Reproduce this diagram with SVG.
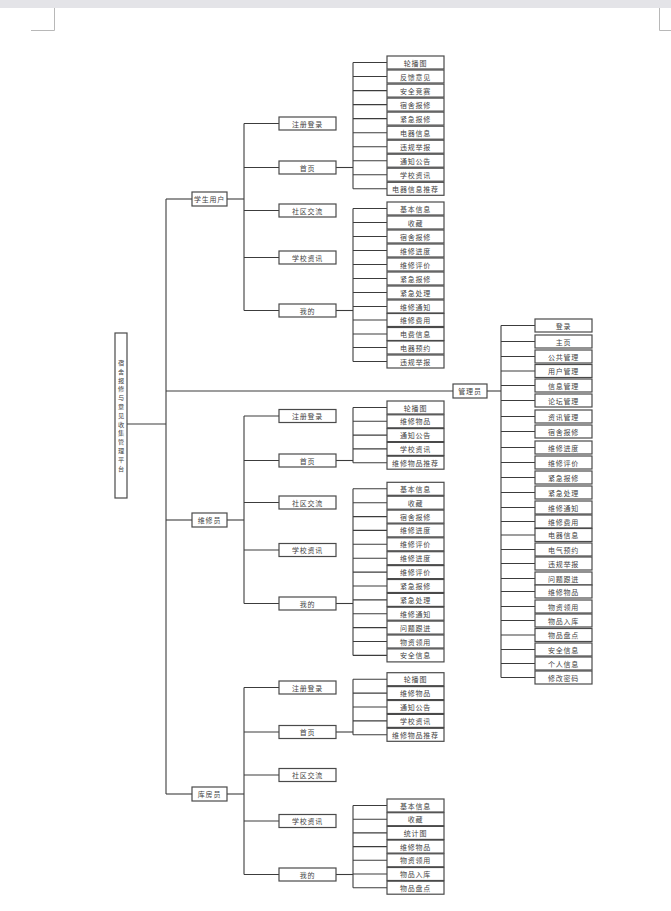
<svg xmlns="http://www.w3.org/2000/svg" width="671" height="911" viewBox="0 0 671 911">
<style>
  .page { fill: #ffffff; }
  .bar { fill: #e4e4e8; }
  .mark { stroke: #b8b8b8; stroke-width: 1; fill: none; }
  .box { fill: #ffffff; stroke: #4a4a4a; stroke-width: 1.2; }
  .lbl { font-family: "Noto Sans CJK SC", "Noto Sans CJK TC", sans-serif; font-size: 7px; fill: #444; text-anchor: middle; dominant-baseline: central; letter-spacing: 0.8px; }
  .vlbl { font-size: 6.2px; letter-spacing: 0; }
  .conn line { stroke: #3c3c3c; stroke-width: 1.1; }
</style>

<!-- page background and corner marks -->
<rect class="page" x="0" y="0" width="671" height="911"/>
<rect class="bar" x="0" y="0" width="671" height="8"/>
<path class="mark" d="M54.5 8 V30.5 H31"/>
<path class="mark" d="M659.5 8 V30.5 H671"/>

<!-- connectors -->
<g id="connectors" class="conn">
  <!-- root trunk -->
  <line x1="127" y1="424" x2="166" y2="424"/>
  <line x1="166" y1="199" x2="166" y2="794"/>
  <line x1="166" y1="199" x2="192" y2="199"/>
  <line x1="166" y1="391" x2="453" y2="391"/>
  <line x1="166" y1="520" x2="192" y2="520"/>
  <line x1="166" y1="794" x2="192" y2="794"/>

  <!-- student branch -->
  <line x1="227" y1="199" x2="244" y2="199"/>
  <line x1="244" y1="123.5" x2="244" y2="310.5"/>
  <line x1="244" y1="123.5" x2="279" y2="123.5"/>
  <line x1="244" y1="167.5" x2="279" y2="167.5"/>
  <line x1="244" y1="210.5" x2="279" y2="210.5"/>
  <line x1="244" y1="257.5" x2="279" y2="257.5"/>
  <line x1="244" y1="310.5" x2="279" y2="310.5"/>
  <line x1="336" y1="167.5" x2="353" y2="167.5"/>
  <line x1="353" y1="62.5" x2="353" y2="188.8"/>
  <line x1="353" y1="62.5" x2="387" y2="62.5"/>
  <line x1="353" y1="76.5" x2="387" y2="76.5"/>
  <line x1="353" y1="90.6" x2="387" y2="90.6"/>
  <line x1="353" y1="104.6" x2="387" y2="104.6"/>
  <line x1="353" y1="118.6" x2="387" y2="118.6"/>
  <line x1="353" y1="132.7" x2="387" y2="132.7"/>
  <line x1="353" y1="146.7" x2="387" y2="146.7"/>
  <line x1="353" y1="160.7" x2="387" y2="160.7"/>
  <line x1="353" y1="174.7" x2="387" y2="174.7"/>
  <line x1="353" y1="188.8" x2="387" y2="188.8"/>
  <line x1="336" y1="310.5" x2="353" y2="310.5"/>
  <line x1="353" y1="208.5" x2="353" y2="361.5"/>
  <line x1="353" y1="208.5" x2="387" y2="208.5"/>
  <line x1="353" y1="222.5" x2="387" y2="222.5"/>
  <line x1="353" y1="236.5" x2="387" y2="236.5"/>
  <line x1="353" y1="250.5" x2="387" y2="250.5"/>
  <line x1="353" y1="264.5" x2="387" y2="264.5"/>
  <line x1="353" y1="278.5" x2="387" y2="278.5"/>
  <line x1="353" y1="292.5" x2="387" y2="292.5"/>
  <line x1="353" y1="306.5" x2="387" y2="306.5"/>
  <line x1="353" y1="320" x2="387" y2="320"/>
  <line x1="353" y1="334" x2="387" y2="334"/>
  <line x1="353" y1="347.5" x2="387" y2="347.5"/>
  <line x1="353" y1="361.5" x2="387" y2="361.5"/>

  <!-- admin branch -->
  <line x1="487" y1="391" x2="501" y2="391"/>
  <line x1="501" y1="325.5" x2="501" y2="677.5"/>
  <line x1="501" y1="325.5" x2="535" y2="325.5"/>
  <line x1="501" y1="341.5" x2="535" y2="341.5"/>
  <line x1="501" y1="356.5" x2="535" y2="356.5"/>
  <line x1="501" y1="371" x2="535" y2="371"/>
  <line x1="501" y1="385.5" x2="535" y2="385.5"/>
  <line x1="501" y1="400.5" x2="535" y2="400.5"/>
  <line x1="501" y1="416.5" x2="535" y2="416.5"/>
  <line x1="501" y1="431.5" x2="535" y2="431.5"/>
  <line x1="501" y1="447.5" x2="535" y2="447.5"/>
  <line x1="501" y1="462.5" x2="535" y2="462.5"/>
  <line x1="501" y1="477.5" x2="535" y2="477.5"/>
  <line x1="501" y1="492.5" x2="535" y2="492.5"/>
  <line x1="501" y1="507.5" x2="535" y2="507.5"/>
  <line x1="501" y1="521.5" x2="535" y2="521.5"/>
  <line x1="501" y1="535" x2="535" y2="535"/>
  <line x1="501" y1="549.5" x2="535" y2="549.5"/>
  <line x1="501" y1="563.5" x2="535" y2="563.5"/>
  <line x1="501" y1="578.5" x2="535" y2="578.5"/>
  <line x1="501" y1="591.5" x2="535" y2="591.5"/>
  <line x1="501" y1="606.5" x2="535" y2="606.5"/>
  <line x1="501" y1="620.5" x2="535" y2="620.5"/>
  <line x1="501" y1="635" x2="535" y2="635"/>
  <line x1="501" y1="649.5" x2="535" y2="649.5"/>
  <line x1="501" y1="663.5" x2="535" y2="663.5"/>
  <line x1="501" y1="677.5" x2="535" y2="677.5"/>

  <!-- repairman branch -->
  <line x1="227" y1="520" x2="244" y2="520"/>
  <line x1="244" y1="416" x2="244" y2="603.5"/>
  <line x1="244" y1="416" x2="279" y2="416"/>
  <line x1="244" y1="460.5" x2="279" y2="460.5"/>
  <line x1="244" y1="502.5" x2="279" y2="502.5"/>
  <line x1="244" y1="550" x2="279" y2="550"/>
  <line x1="244" y1="603.5" x2="279" y2="603.5"/>
  <line x1="336" y1="460.5" x2="353" y2="460.5"/>
  <line x1="353" y1="407.5" x2="353" y2="462.7"/>
  <line x1="353" y1="407.5" x2="387" y2="407.5"/>
  <line x1="353" y1="421.3" x2="387" y2="421.3"/>
  <line x1="353" y1="435.1" x2="387" y2="435.1"/>
  <line x1="353" y1="448.9" x2="387" y2="448.9"/>
  <line x1="353" y1="462.7" x2="387" y2="462.7"/>
  <line x1="336" y1="603.5" x2="353" y2="603.5"/>
  <line x1="353" y1="488.8" x2="353" y2="655.4"/>
  <line x1="353" y1="488.8" x2="387" y2="488.8"/>
  <line x1="353" y1="502.7" x2="387" y2="502.7"/>
  <line x1="353" y1="516.6" x2="387" y2="516.6"/>
  <line x1="353" y1="530.4" x2="387" y2="530.4"/>
  <line x1="353" y1="544.3" x2="387" y2="544.3"/>
  <line x1="353" y1="558.2" x2="387" y2="558.2"/>
  <line x1="353" y1="572.1" x2="387" y2="572.1"/>
  <line x1="353" y1="586" x2="387" y2="586"/>
  <line x1="353" y1="599.9" x2="387" y2="599.9"/>
  <line x1="353" y1="613.7" x2="387" y2="613.7"/>
  <line x1="353" y1="627.6" x2="387" y2="627.6"/>
  <line x1="353" y1="641.5" x2="387" y2="641.5"/>
  <line x1="353" y1="655.4" x2="387" y2="655.4"/>

  <!-- storekeeper branch -->
  <line x1="227" y1="794" x2="244" y2="794"/>
  <line x1="244" y1="687.5" x2="244" y2="874.5"/>
  <line x1="244" y1="687.5" x2="279" y2="687.5"/>
  <line x1="244" y1="732" x2="279" y2="732"/>
  <line x1="244" y1="775" x2="279" y2="775"/>
  <line x1="244" y1="821" x2="279" y2="821"/>
  <line x1="244" y1="874.5" x2="279" y2="874.5"/>
  <line x1="336" y1="732" x2="353" y2="732"/>
  <line x1="353" y1="679.2" x2="353" y2="734.8"/>
  <line x1="353" y1="679.2" x2="387" y2="679.2"/>
  <line x1="353" y1="693.1" x2="387" y2="693.1"/>
  <line x1="353" y1="707" x2="387" y2="707"/>
  <line x1="353" y1="720.9" x2="387" y2="720.9"/>
  <line x1="353" y1="734.8" x2="387" y2="734.8"/>
  <line x1="336" y1="874.5" x2="353" y2="874.5"/>
  <line x1="353" y1="805.5" x2="353" y2="887.7"/>
  <line x1="353" y1="805.5" x2="387" y2="805.5"/>
  <line x1="353" y1="819.2" x2="387" y2="819.2"/>
  <line x1="353" y1="832.9" x2="387" y2="832.9"/>
  <line x1="353" y1="846.6" x2="387" y2="846.6"/>
  <line x1="353" y1="860.3" x2="387" y2="860.3"/>
  <line x1="353" y1="874" x2="387" y2="874"/>
  <line x1="353" y1="887.7" x2="387" y2="887.7"/>
</g>

<!-- root: platform title, one character per line -->
<g id="root">
  <rect class="box" x="115" y="333" width="12" height="165"/>
  <text class="lbl vlbl" x="121" y="362">
    <tspan x="121" dy="0">宿</tspan><tspan x="121" dy="8.8">舍</tspan><tspan x="121" dy="8.8">报</tspan><tspan x="121" dy="8.8">修</tspan><tspan x="121" dy="8.8">与</tspan><tspan x="121" dy="8.8">意</tspan><tspan x="121" dy="8.8">见</tspan><tspan x="121" dy="8.8">收</tspan><tspan x="121" dy="8.8">集</tspan><tspan x="121" dy="8.8">管</tspan><tspan x="121" dy="8.8">理</tspan><tspan x="121" dy="8.8">平</tspan><tspan x="121" dy="8.8">台</tspan>
  </text>
</g>

<!-- student user -->
<g id="student"><rect class="box" x="192" y="192" width="35" height="14"/><text class="lbl" x="209.5" y="199">学生用户</text></g>
<g id="s-login"><rect class="box" x="279" y="117" width="57" height="13"/><text class="lbl" x="307.5" y="123.5">注册登录</text></g>
<g id="s-home"><rect class="box" x="279" y="161" width="57" height="13"/><text class="lbl" x="307.5" y="167.5">首页</text></g>
<g id="s-forum"><rect class="box" x="279" y="204" width="57" height="13"/><text class="lbl" x="307.5" y="210.5">社区交流</text></g>
<g id="s-news"><rect class="box" x="279" y="251" width="57" height="13"/><text class="lbl" x="307.5" y="257.5">学校资讯</text></g>
<g id="s-mine"><rect class="box" x="279" y="304" width="57" height="13"/><text class="lbl" x="307.5" y="310.5">我的</text></g>

<g id="s-home-1"><rect class="box" x="387" y="56" width="57" height="13"/><text class="lbl" x="415.5" y="62.5">轮播图</text></g>
<g id="s-home-2"><rect class="box" x="387" y="70" width="57" height="13"/><text class="lbl" x="415.5" y="76.5">反馈意见</text></g>
<g id="s-home-3"><rect class="box" x="387" y="84.1" width="57" height="13"/><text class="lbl" x="415.5" y="90.6">安全竞赛</text></g>
<g id="s-home-4"><rect class="box" x="387" y="98.1" width="57" height="13"/><text class="lbl" x="415.5" y="104.6">宿舍报修</text></g>
<g id="s-home-5"><rect class="box" x="387" y="112.1" width="57" height="13"/><text class="lbl" x="415.5" y="118.6">紧急报修</text></g>
<g id="s-home-6"><rect class="box" x="387" y="126.2" width="57" height="13"/><text class="lbl" x="415.5" y="132.7">电器信息</text></g>
<g id="s-home-7"><rect class="box" x="387" y="140.2" width="57" height="13"/><text class="lbl" x="415.5" y="146.7">违规举报</text></g>
<g id="s-home-8"><rect class="box" x="387" y="154.2" width="57" height="13"/><text class="lbl" x="415.5" y="160.7">通知公告</text></g>
<g id="s-home-9"><rect class="box" x="387" y="168.2" width="57" height="13"/><text class="lbl" x="415.5" y="174.7">学校资讯</text></g>
<g id="s-home-10"><rect class="box" x="387" y="182.3" width="57" height="13"/><text class="lbl" x="415.5" y="188.8">电器信息推荐</text></g>

<g id="s-mine-1"><rect class="box" x="387" y="202" width="57" height="13"/><text class="lbl" x="415.5" y="208.5">基本信息</text></g>
<g id="s-mine-2"><rect class="box" x="387" y="216" width="57" height="13"/><text class="lbl" x="415.5" y="222.5">收藏</text></g>
<g id="s-mine-3"><rect class="box" x="387" y="230" width="57" height="13"/><text class="lbl" x="415.5" y="236.5">宿舍报修</text></g>
<g id="s-mine-4"><rect class="box" x="387" y="244" width="57" height="13"/><text class="lbl" x="415.5" y="250.5">维修进度</text></g>
<g id="s-mine-5"><rect class="box" x="387" y="258" width="57" height="13"/><text class="lbl" x="415.5" y="264.5">维修评价</text></g>
<g id="s-mine-6"><rect class="box" x="387" y="272" width="57" height="13"/><text class="lbl" x="415.5" y="278.5">紧急报修</text></g>
<g id="s-mine-7"><rect class="box" x="387" y="286" width="57" height="13"/><text class="lbl" x="415.5" y="292.5">紧急处理</text></g>
<g id="s-mine-8"><rect class="box" x="387" y="300" width="57" height="13"/><text class="lbl" x="415.5" y="306.5">维修通知</text></g>
<g id="s-mine-9"><rect class="box" x="387" y="313.5" width="57" height="13"/><text class="lbl" x="415.5" y="320">维修费用</text></g>
<g id="s-mine-10"><rect class="box" x="387" y="327.5" width="57" height="13"/><text class="lbl" x="415.5" y="334">电费信息</text></g>
<g id="s-mine-11"><rect class="box" x="387" y="341" width="57" height="13"/><text class="lbl" x="415.5" y="347.5">电器预约</text></g>
<g id="s-mine-12"><rect class="box" x="387" y="355" width="57" height="13"/><text class="lbl" x="415.5" y="361.5">违规举报</text></g>

<!-- administrator -->
<g id="admin"><rect class="box" x="453" y="384" width="34" height="14"/><text class="lbl" x="470" y="391">管理员</text></g>
<g id="a-1"><rect class="box" x="535" y="319" width="57" height="13"/><text class="lbl" x="563.5" y="325.5">登录</text></g>
<g id="a-2"><rect class="box" x="535" y="335" width="57" height="13"/><text class="lbl" x="563.5" y="341.5">主页</text></g>
<g id="a-3"><rect class="box" x="535" y="350" width="57" height="13"/><text class="lbl" x="563.5" y="356.5">公共管理</text></g>
<g id="a-4"><rect class="box" x="535" y="364.5" width="57" height="13"/><text class="lbl" x="563.5" y="371">用户管理</text></g>
<g id="a-5"><rect class="box" x="535" y="379" width="57" height="13"/><text class="lbl" x="563.5" y="385.5">信息管理</text></g>
<g id="a-6"><rect class="box" x="535" y="394" width="57" height="13"/><text class="lbl" x="563.5" y="400.5">论坛管理</text></g>
<g id="a-7"><rect class="box" x="535" y="410" width="57" height="13"/><text class="lbl" x="563.5" y="416.5">资讯管理</text></g>
<g id="a-8"><rect class="box" x="535" y="425" width="57" height="13"/><text class="lbl" x="563.5" y="431.5">宿舍报修</text></g>
<g id="a-9"><rect class="box" x="535" y="441" width="57" height="13"/><text class="lbl" x="563.5" y="447.5">维修进度</text></g>
<g id="a-10"><rect class="box" x="535" y="456" width="57" height="13"/><text class="lbl" x="563.5" y="462.5">维修评价</text></g>
<g id="a-11"><rect class="box" x="535" y="471" width="57" height="13"/><text class="lbl" x="563.5" y="477.5">紧急报修</text></g>
<g id="a-12"><rect class="box" x="535" y="486" width="57" height="13"/><text class="lbl" x="563.5" y="492.5">紧急处理</text></g>
<g id="a-13"><rect class="box" x="535" y="501" width="57" height="13"/><text class="lbl" x="563.5" y="507.5">维修通知</text></g>
<g id="a-14"><rect class="box" x="535" y="515" width="57" height="13"/><text class="lbl" x="563.5" y="521.5">维修费用</text></g>
<g id="a-15"><rect class="box" x="535" y="528.5" width="57" height="13"/><text class="lbl" x="563.5" y="535">电器信息</text></g>
<g id="a-16"><rect class="box" x="535" y="543" width="57" height="13"/><text class="lbl" x="563.5" y="549.5">电气预约</text></g>
<g id="a-17"><rect class="box" x="535" y="557" width="57" height="13"/><text class="lbl" x="563.5" y="563.5">违规举报</text></g>
<g id="a-18"><rect class="box" x="535" y="572" width="57" height="13"/><text class="lbl" x="563.5" y="578.5">问题跟进</text></g>
<g id="a-19"><rect class="box" x="535" y="585" width="57" height="13"/><text class="lbl" x="563.5" y="591.5">维修物品</text></g>
<g id="a-20"><rect class="box" x="535" y="600" width="57" height="13"/><text class="lbl" x="563.5" y="606.5">物资领用</text></g>
<g id="a-21"><rect class="box" x="535" y="614" width="57" height="13"/><text class="lbl" x="563.5" y="620.5">物品入库</text></g>
<g id="a-22"><rect class="box" x="535" y="628.5" width="57" height="13"/><text class="lbl" x="563.5" y="635">物品盘点</text></g>
<g id="a-23"><rect class="box" x="535" y="643" width="57" height="13"/><text class="lbl" x="563.5" y="649.5">安全信息</text></g>
<g id="a-24"><rect class="box" x="535" y="657" width="57" height="13"/><text class="lbl" x="563.5" y="663.5">个人信息</text></g>
<g id="a-25"><rect class="box" x="535" y="671" width="57" height="13"/><text class="lbl" x="563.5" y="677.5">修改密码</text></g>

<!-- repairman -->
<g id="repairman"><rect class="box" x="192" y="513" width="35" height="14"/><text class="lbl" x="209.5" y="520">维修员</text></g>
<g id="r-login"><rect class="box" x="279" y="409.5" width="57" height="13"/><text class="lbl" x="307.5" y="416">注册登录</text></g>
<g id="r-home"><rect class="box" x="279" y="454" width="57" height="13"/><text class="lbl" x="307.5" y="460.5">首页</text></g>
<g id="r-forum"><rect class="box" x="279" y="496" width="57" height="13"/><text class="lbl" x="307.5" y="502.5">社区交流</text></g>
<g id="r-news"><rect class="box" x="279" y="543.5" width="57" height="13"/><text class="lbl" x="307.5" y="550">学校资讯</text></g>
<g id="r-mine"><rect class="box" x="279" y="597" width="57" height="13"/><text class="lbl" x="307.5" y="603.5">我的</text></g>

<g id="r-home-1"><rect class="box" x="387" y="401" width="57" height="13"/><text class="lbl" x="415.5" y="407.5">轮播图</text></g>
<g id="r-home-2"><rect class="box" x="387" y="414.8" width="57" height="13"/><text class="lbl" x="415.5" y="421.3">维修物品</text></g>
<g id="r-home-3"><rect class="box" x="387" y="428.6" width="57" height="13"/><text class="lbl" x="415.5" y="435.1">通知公告</text></g>
<g id="r-home-4"><rect class="box" x="387" y="442.4" width="57" height="13"/><text class="lbl" x="415.5" y="448.9">学校资讯</text></g>
<g id="r-home-5"><rect class="box" x="387" y="456.2" width="57" height="13"/><text class="lbl" x="415.5" y="462.7">维修物品推荐</text></g>

<g id="r-mine-1"><rect class="box" x="387" y="482.3" width="57" height="13"/><text class="lbl" x="415.5" y="488.8">基本信息</text></g>
<g id="r-mine-2"><rect class="box" x="387" y="496.2" width="57" height="13"/><text class="lbl" x="415.5" y="502.7">收藏</text></g>
<g id="r-mine-3"><rect class="box" x="387" y="510.1" width="57" height="13"/><text class="lbl" x="415.5" y="516.6">宿舍报修</text></g>
<g id="r-mine-4"><rect class="box" x="387" y="523.9" width="57" height="13"/><text class="lbl" x="415.5" y="530.4">维修进度</text></g>
<g id="r-mine-5"><rect class="box" x="387" y="537.8" width="57" height="13"/><text class="lbl" x="415.5" y="544.3">维修评价</text></g>
<g id="r-mine-6"><rect class="box" x="387" y="551.7" width="57" height="13"/><text class="lbl" x="415.5" y="558.2">维修进度</text></g>
<g id="r-mine-7"><rect class="box" x="387" y="565.6" width="57" height="13"/><text class="lbl" x="415.5" y="572.1">维修评价</text></g>
<g id="r-mine-8"><rect class="box" x="387" y="579.5" width="57" height="13"/><text class="lbl" x="415.5" y="586">紧急报修</text></g>
<g id="r-mine-9"><rect class="box" x="387" y="593.4" width="57" height="13"/><text class="lbl" x="415.5" y="599.9">紧急处理</text></g>
<g id="r-mine-10"><rect class="box" x="387" y="607.2" width="57" height="13"/><text class="lbl" x="415.5" y="613.7">维修通知</text></g>
<g id="r-mine-11"><rect class="box" x="387" y="621.1" width="57" height="13"/><text class="lbl" x="415.5" y="627.6">问题跟进</text></g>
<g id="r-mine-12"><rect class="box" x="387" y="635" width="57" height="13"/><text class="lbl" x="415.5" y="641.5">物资领用</text></g>
<g id="r-mine-13"><rect class="box" x="387" y="648.9" width="57" height="13"/><text class="lbl" x="415.5" y="655.4">安全信息</text></g>

<!-- storekeeper -->
<g id="storekeeper"><rect class="box" x="192" y="787" width="35" height="14"/><text class="lbl" x="209.5" y="794">库房员</text></g>
<g id="k-login"><rect class="box" x="279" y="681" width="57" height="13"/><text class="lbl" x="307.5" y="687.5">注册登录</text></g>
<g id="k-home"><rect class="box" x="279" y="725.5" width="57" height="13"/><text class="lbl" x="307.5" y="732">首页</text></g>
<g id="k-forum"><rect class="box" x="279" y="768.5" width="57" height="13"/><text class="lbl" x="307.5" y="775">社区交流</text></g>
<g id="k-news"><rect class="box" x="279" y="814.5" width="57" height="13"/><text class="lbl" x="307.5" y="821">学校资讯</text></g>
<g id="k-mine"><rect class="box" x="279" y="868" width="57" height="13"/><text class="lbl" x="307.5" y="874.5">我的</text></g>

<g id="k-home-1"><rect class="box" x="387" y="672.7" width="57" height="13"/><text class="lbl" x="415.5" y="679.2">轮播图</text></g>
<g id="k-home-2"><rect class="box" x="387" y="686.6" width="57" height="13"/><text class="lbl" x="415.5" y="693.1">维修物品</text></g>
<g id="k-home-3"><rect class="box" x="387" y="700.5" width="57" height="13"/><text class="lbl" x="415.5" y="707">通知公告</text></g>
<g id="k-home-4"><rect class="box" x="387" y="714.4" width="57" height="13"/><text class="lbl" x="415.5" y="720.9">学校资讯</text></g>
<g id="k-home-5"><rect class="box" x="387" y="728.3" width="57" height="13"/><text class="lbl" x="415.5" y="734.8">维修物品推荐</text></g>

<g id="k-mine-1"><rect class="box" x="387" y="799" width="57" height="13"/><text class="lbl" x="415.5" y="805.5">基本信息</text></g>
<g id="k-mine-2"><rect class="box" x="387" y="812.7" width="57" height="13"/><text class="lbl" x="415.5" y="819.2">收藏</text></g>
<g id="k-mine-3"><rect class="box" x="387" y="826.4" width="57" height="13"/><text class="lbl" x="415.5" y="832.9">统计图</text></g>
<g id="k-mine-4"><rect class="box" x="387" y="840.1" width="57" height="13"/><text class="lbl" x="415.5" y="846.6">维修物品</text></g>
<g id="k-mine-5"><rect class="box" x="387" y="853.8" width="57" height="13"/><text class="lbl" x="415.5" y="860.3">物资领用</text></g>
<g id="k-mine-6"><rect class="box" x="387" y="867.5" width="57" height="13"/><text class="lbl" x="415.5" y="874">物品入库</text></g>
<g id="k-mine-7"><rect class="box" x="387" y="881.2" width="57" height="13"/><text class="lbl" x="415.5" y="887.7">物品盘点</text></g>
</svg>
